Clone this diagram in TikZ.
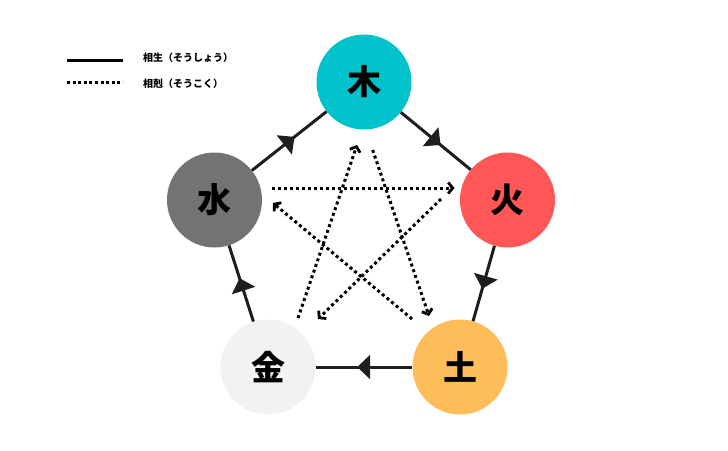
\documentclass[tikz,border=0pt]{standalone}
\usepackage{fontspec}
\newfontfamily\jp{Noto Sans CJK JP}
\usepackage{pgf,tikz}
\usetikzlibrary{arrows.meta, positioning, decorations.markings}
\definecolor{moku}{HTML}{00C2CB}
\definecolor{ka}{HTML}{FF5757}
\definecolor{do}{HTML}{FFBD59}
\definecolor{kin}{HTML}{F3F2F0}
\definecolor{sui}{HTML}{737373}
\definecolor{linea}{HTML}{1E1E1E}
\tikzstyle{elemento} = [circle, minimum size=95pt, inner sep=0pt, font=\jp\bfseries\fontsize{34}{34}\selectfont]
\tikzstyle{leyenda} = [anchor=west, inner sep=0pt, font=\jp\bfseries\fontsize{10}{10}\selectfont]
\tikzstyle{sheng} = [draw=linea, line width=3pt, decoration={markings, mark=at position 0.57 with {\arrow{Triangle[length=13pt,width=24pt]}}}, postaction=decorate]
\tikzstyle{ke} = [draw=black, line width=3pt, dash pattern=on 3pt off 3pt, -{Straight Barb[length=4.5pt,width=11pt,line width=2.8pt]}]

\begin{document}
\begin{tikzpicture}[x=1pt, y=-1pt]
		\useasboundingbox (0,0) rectangle (728,450);
		% elementos
		\node [elemento, fill=moku] (moku) at (364,82) {木};
		\node [elemento, fill=ka] (ka) at (507.5,200) {火};
		\node [elemento, fill=do] (do) at (460,367) {土};
		\node [elemento, fill=kin] (kin) at (268,367) {金};
		\node [elemento, fill=sui] (sui) at (214.5,200) {水};
		% sousei
		\draw[sheng] (moku) -- (ka);
		\draw[sheng] (ka) -- (do);
		\draw[sheng] (do) -- (kin);
		\draw[sheng] (kin) -- (sui);
		\draw[sheng] (sui) -- (moku);
		% soukoku
		\draw[ke] ([shift={(8.7,68)}]moku.center) -- ([shift={(-31,-51)}]do.center);
		\draw[ke] ([shift={(-48,-48)}]do.center) -- ([shift={(58.5,3)}]sui.center);
		\draw[ke] ([shift={(57,-12)}]sui.center) -- ([shift={(-53,-12)}]ka.center);
		\draw[ke] ([shift={(-66.5,-1)}]ka.center) -- ([shift={(50,-48)}]kin.center);
		\draw[ke] ([shift={(30,-49)}]kin.center) -- ([shift={(-7,63)}]moku.center);
		% leyenda
		\coordinate (l1a) at (67,60.5);
		\coordinate (l1b) at (123,60.5);
		\coordinate (l2a) at (67,82.5);
		\coordinate (l2b) at (123,82.5);
		\draw[draw=black, line width=3pt] (l1a) -- (l1b);
		\draw[draw=black, line width=3pt, dash pattern=on 3pt off 2.6pt] (l2a) -- (l2b);
		\node[leyenda] (sousei) at (143,57.5) {相生（そうしょう）};
		\node[leyenda] (soukoku) at (143,83.5) {相剋（そうこく）};
	\end{tikzpicture}
\end{document}
